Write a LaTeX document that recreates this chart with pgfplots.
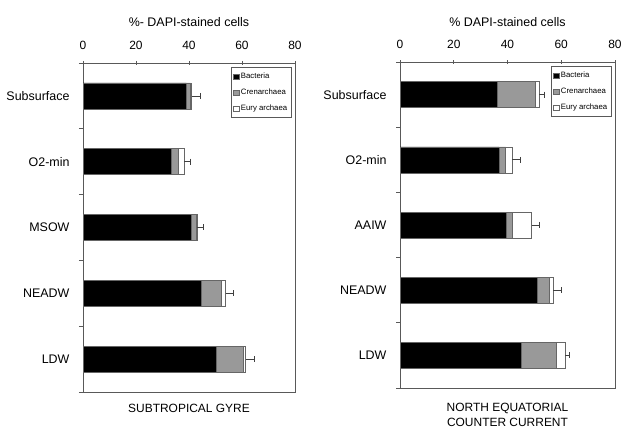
\documentclass[border=0pt]{standalone}
\usepackage{pgfplots}
\pgfplotsset{compat=1.18}
\usepackage{fontspec}
\setmainfont{Liberation Sans}
\begin{document}
\begin{tikzpicture}
\path[use as bounding box] (0bp,0bp) rectangle (622bp,429bp);
\pgfplotsset{
  panel/.style={
    scale only axis, anchor=south west, clip=false,
    xmin=0, xmax=80, ymin=-0.5, ymax=4.5,
  },
  bars/.style={
    panel, xbar stacked, bar width=26bp,
    axis line style={black!65, line width=0.8pt},
    xtick={0,20,...,80}, xtick pos=right, xticklabel pos=right,
    xtick align=center, ytick align=outside,
    major tick length=4bp, minor tick length=4bp,
    tick style={black!65, line width=0.7pt},
    ytick={0,...,4}, ytick pos=left,
    major y tick style={draw=none},
    minor ytick={-0.5,0.5,...,4.5},
    /pgf/number format/assume math mode=true,
    xticklabel style={font=\fontsize{12}{13}\selectfont, yshift=8bp},
    yticklabel style={font=\fontsize{12.5}{14}\selectfont, xshift=-6bp},
    legend style={at={(1,1)}, xshift=-3bp, yshift=-4bp, anchor=north east,
      font=\fontsize{7.8}{9}\selectfont, draw=black!65, line width=0.6pt,
      row sep=5bp, inner xsep=2.5bp, inner ysep=3.5bp},
    legend cell align=left,
    legend image code/.code={\draw[#1, line width=0.4pt] (0bp,-2.6bp) rectangle (5.2bp,2.6bp);},
    every axis plot/.append style={draw=black!60, line width=0.5pt},
  },
  errs/.style={
    panel, hide axis,
  },
  errplot/.style={draw=none, mark=none,
    error bars/.cd, x dir=plus, x explicit,
    error bar style={draw=black!75, line width=0.7pt},
    error mark options={rotate=90, mark size=3bp, draw=black!75, line width=0.7pt}},
}
% ---------------- Left panel: Subtropical Gyre
\begin{axis}[bars, at={(83bp,37bp)}, width=212bp, height=329bp,
  yticklabels={LDW,NEADW,MSOW,O2-min,Subsurface}]
\addplot[fill=black] coordinates {(39.0,4) (33.4,3) (40.9,2) (44.7,1) (50.3,0)};
\addplot[fill=black!40] coordinates {(1.5,4) (2.4,3) (1.9,2) (7.6,1) (10.1,0)};
\addplot[fill=white] coordinates {(0.5,4) (2.3,3) (0.3,2) (1.5,1) (1.0,0)};
\legend{Bacteria,Crenarchaea,Eury archaea}
\node[font=\fontsize{12.5}{14}\selectfont] at (rel axis cs:0.5,1) [yshift=41bp] {\%- DAPI-stained cells};
\node[font=\fontsize{12}{14}\selectfont] at (rel axis cs:0.5,0) [yshift=-16bp] {SUBTROPICAL GYRE};
\end{axis}
\begin{axis}[errs, at={(83bp,37bp)}, width=212bp, height=329bp]
\addplot[errplot] coordinates {(41.0,4) +- (3.4,0) (38.1,3) +- (2.5,0) (43.1,2) +- (2.3,0) (53.8,1) +- (3.1,0) (61.4,0) +- (3.1,0)};
\end{axis}
% ---------------- Right panel: North Equatorial Counter Current
\begin{axis}[bars, at={(400bp,41bp)}, width=215bp, height=326bp,
  yticklabels={LDW,NEADW,AAIW,O2-min,Subsurface}]
\addplot[fill=black] coordinates {(36.2,4) (36.8,3) (39.7,2) (51.1,1) (45.3,0)};
\addplot[fill=black!40] coordinates {(14.0,4) (2.5,3) (1.9,2) (4.4,1) (13.0,0)};
\addplot[fill=white] coordinates {(1.6,4) (2.3,3) (7.4,2) (1.5,1) (3.1,0)};
\legend{Bacteria,Crenarchaea,Eury archaea}
\node[font=\fontsize{12.5}{14}\selectfont] at (rel axis cs:0.5,1) [yshift=40bp] {\% DAPI-stained cells};
\node[font=\fontsize{12}{14}\selectfont, align=center] at (rel axis cs:0.5,0) [yshift=-27bp] {NORTH EQUATORIAL\\[1bp]COUNTER CURRENT};
\end{axis}
\begin{axis}[errs, at={(400bp,41bp)}, width=215bp, height=326bp]
\addplot[errplot] coordinates {(51.8,4) +- (1.8,0) (41.6,3) +- (3.1,0) (49.0,2) +- (2.8,0) (57.0,1) +- (3.2,0) (61.4,0) +- (1.6,0)};
\end{axis}
\end{tikzpicture}
\end{document}
